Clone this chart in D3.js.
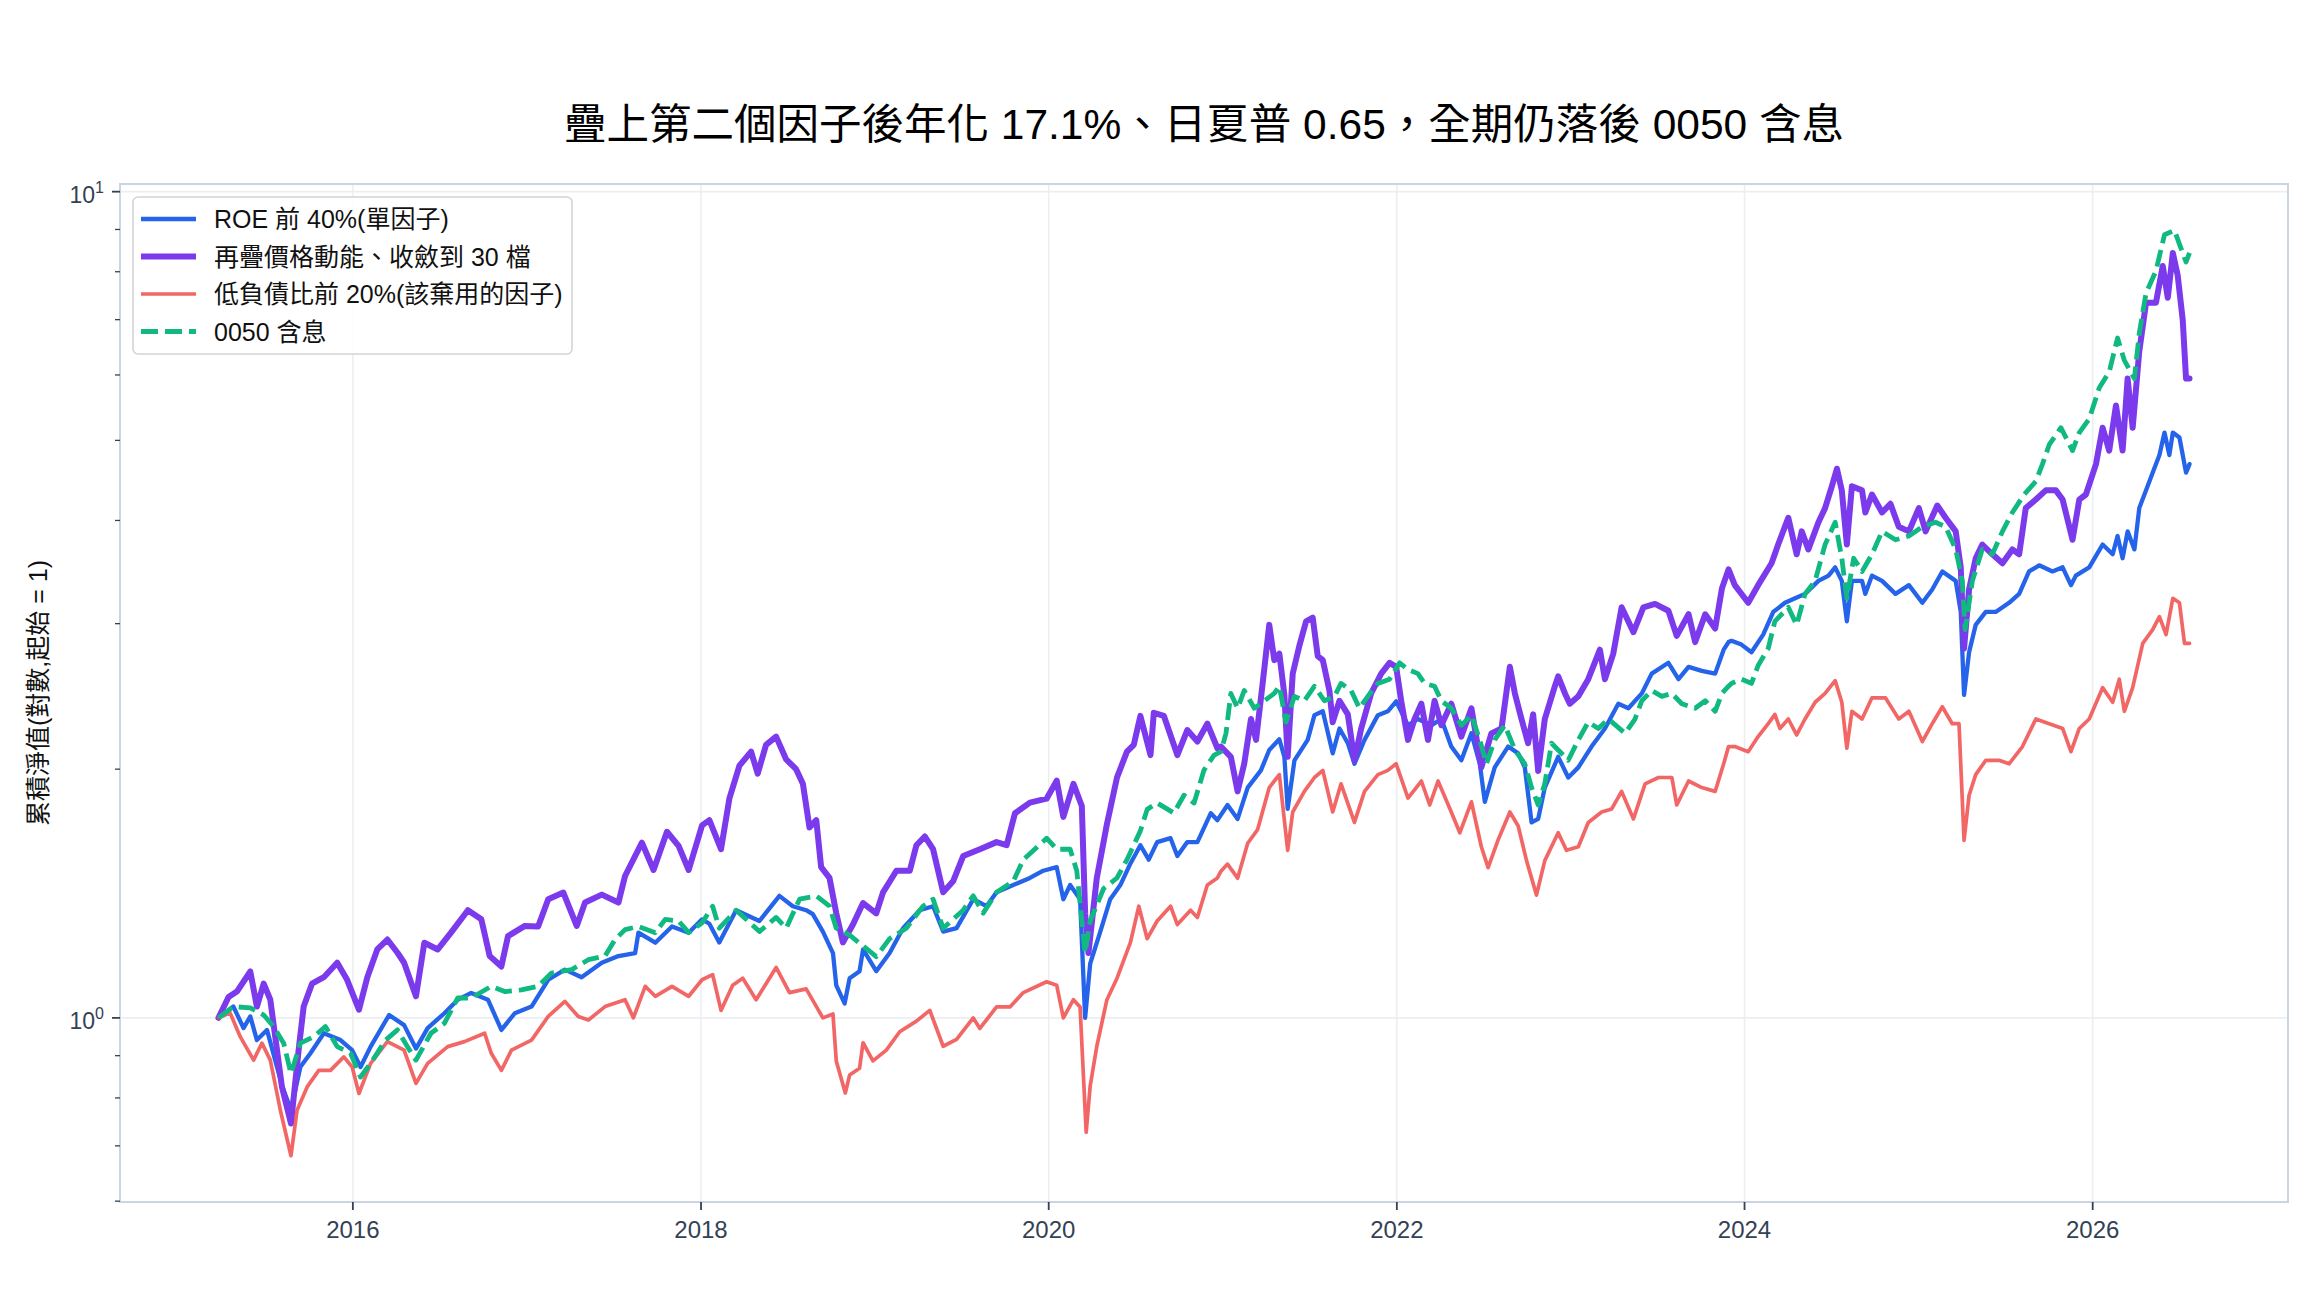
<!DOCTYPE html>
<html>
<head>
<meta charset="utf-8">
<script src="https://cdn.jsdelivr.net/npm/d3@7"></script>
<style>
  html, body { margin: 0; padding: 0; background: #fff; }
  svg { display: block; font-family: "Liberation Sans", Arial, "Noto Sans CJK TC", sans-serif; }
</style>
</head>
<body>
<div id="chart"></div>
<script>
// series: [decimal year, cumulative value (start = 1)]
var roeTop40 = [
  [2015.227,1.00],[2015.313,1.032],[2015.371,0.972],[2015.410,1.004],[2015.448,0.94],[2015.506,0.967],[2015.592,0.829],[2015.644,0.773],[2015.698,0.872],[2015.756,0.906],[2015.833,0.958],[2015.929,0.94],[2015.996,0.914],[2016.044,0.872],[2016.102,0.923],[2016.208,1.008],[2016.294,0.98],[2016.362,0.918],[2016.429,0.972],[2016.525,1.013],[2016.602,1.052],[2016.679,1.072],[2016.775,1.052],[2016.852,0.967],[2016.929,1.013],[2017.025,1.032],[2017.121,1.112],[2017.217,1.144],[2017.313,1.12],[2017.429,1.166],[2017.525,1.188],[2017.621,1.198],[2017.640,1.268],[2017.737,1.233],[2017.833,1.29],[2017.929,1.268],[2018.006,1.316],
  [2018.048,1.30],[2018.105,1.234],[2018.202,1.35],[2018.336,1.31],[2018.451,1.405],[2018.528,1.365],[2018.605,1.35],[2018.643,1.335],[2018.701,1.272],[2018.759,1.198],[2018.778,1.095],[2018.826,1.041],[2018.855,1.117],[2018.912,1.139],[2018.932,1.21],[2019.008,1.139],[2019.085,1.198],[2019.162,1.284],[2019.258,1.35],[2019.335,1.365],[2019.393,1.272],[2019.470,1.284],[2019.566,1.392],[2019.642,1.365],[2019.700,1.419],[2019.796,1.448],[2019.892,1.477],[2019.969,1.507],[2020.046,1.522],[2020.084,1.392],[2020.123,1.448],[2020.180,1.392],[2020.209,1.0],[2020.238,1.163],[2020.296,1.272],[2020.353,1.392],[2020.411,1.448],[2020.469,1.538],[2020.526,1.618],[2020.574,1.554],[2020.622,1.632],[2020.699,1.65],[2020.738,1.57],[2020.795,1.632],[2020.853,1.632],[2020.930,1.769],[2020.968,1.735],
  [2021.026,1.81],[2021.084,1.741],[2021.142,1.90],[2021.218,1.993],[2021.266,2.11],[2021.324,2.174],[2021.353,2.07],[2021.372,1.79],[2021.411,2.05],[2021.487,2.17],[2021.526,2.325],[2021.574,2.35],[2021.631,2.09],[2021.670,2.24],[2021.718,2.15],[2021.756,2.03],[2021.814,2.17],[2021.891,2.325],[2021.948,2.35],[2021.996,2.416],[2022.064,2.26],[2022.121,2.30],[2022.198,2.26],[2022.256,2.30],[2022.313,2.13],[2022.371,2.05],[2022.429,2.21],[2022.477,2.03],[2022.506,1.826],[2022.563,2.01],[2022.640,2.13],[2022.698,2.09],[2022.736,2.01],[2022.775,1.724],[2022.813,1.741],[2022.851,1.90],[2022.928,2.07],[2022.986,1.954],[2023.044,2.01],[2023.120,2.13],[2023.197,2.24],[2023.274,2.40],[2023.332,2.37],[2023.409,2.47],[2023.466,2.61],[2023.562,2.69],[2023.620,2.57],[2023.678,2.66],[2023.754,2.63],[2023.831,2.61],[2023.880,2.79],[2023.908,2.85],
  [2023.925,2.86],[2023.982,2.83],[2024.040,2.77],[2024.107,2.91],[2024.165,3.10],[2024.232,3.18],[2024.290,3.22],[2024.347,3.26],[2024.424,3.38],[2024.482,3.43],[2024.520,3.51],[2024.558,3.38],[2024.587,3.02],[2024.616,3.38],[2024.674,3.38],[2024.693,3.26],[2024.731,3.43],[2024.789,3.38],[2024.866,3.26],[2024.943,3.34],[2025.020,3.18],[2025.077,3.30],[2025.135,3.47],[2025.212,3.38],[2025.241,3.10],[2025.260,2.46],[2025.289,2.77],[2025.327,2.99],[2025.385,3.10],[2025.442,3.10],[2025.519,3.18],[2025.577,3.26],[2025.634,3.47],[2025.692,3.53],[2025.769,3.47],[2025.827,3.51],[2025.875,3.34],[2025.903,3.43],[2025.980,3.51],[2026.057,3.74],[2026.115,3.64],[2026.143,3.83],[2026.172,3.60],[2026.201,3.88],[2026.240,3.69],[2026.268,4.14],[2026.307,4.35],[2026.345,4.57],[2026.384,4.80],[2026.413,5.11],[2026.441,4.80],[2026.461,5.11],[2026.499,5.04],[2026.537,4.57],[2026.557,4.68]
];

var momentum30 = [
  [2015.227,1.00],[2015.285,1.06],[2015.333,1.076],[2015.410,1.138],[2015.448,1.032],[2015.487,1.10],[2015.525,1.052],[2015.592,0.825],[2015.644,0.745],[2015.688,0.914],[2015.717,1.032],[2015.765,1.10],[2015.833,1.12],[2015.910,1.166],[2015.967,1.112],[2016.035,1.023],[2016.083,1.12],[2016.140,1.21],[2016.198,1.244],[2016.256,1.199],[2016.294,1.166],[2016.362,1.062],[2016.410,1.233],[2016.487,1.21],[2016.563,1.268],[2016.660,1.35],[2016.737,1.316],[2016.785,1.188],[2016.852,1.154],[2016.890,1.256],[2016.987,1.292],[2017.063,1.29],[2017.121,1.392],[2017.208,1.418],[2017.285,1.292],[2017.333,1.379],[2017.429,1.41],[2017.525,1.379],[2017.563,1.485],[2017.660,1.63],[2017.727,1.51],[2017.804,1.68],[2017.871,1.615],[2017.929,1.51],[2018.006,1.71],
  [2018.048,1.735],[2018.115,1.60],[2018.163,1.842],[2018.221,2.02],[2018.288,2.10],[2018.326,1.975],[2018.374,2.14],[2018.432,2.19],[2018.490,2.055],[2018.547,2.0],[2018.586,1.92],[2018.624,1.70],[2018.663,1.735],[2018.691,1.522],[2018.739,1.477],[2018.778,1.339],[2018.816,1.234],[2018.874,1.297],[2018.932,1.377],[2019.008,1.338],[2019.047,1.419],[2019.124,1.507],[2019.201,1.507],[2019.239,1.618],[2019.287,1.658],[2019.335,1.60],[2019.393,1.419],[2019.450,1.463],[2019.508,1.57],[2019.604,1.60],[2019.700,1.632],[2019.758,1.618],[2019.806,1.769],[2019.892,1.822],[2019.988,1.842],[2020.046,1.937],[2020.084,1.751],[2020.142,1.92],[2020.190,1.805],[2020.209,1.339],[2020.228,1.198],[2020.276,1.477],[2020.334,1.716],[2020.392,1.955],[2020.449,2.10],[2020.488,2.14],[2020.526,2.32],[2020.584,2.08],[2020.603,2.34],[2020.661,2.32],[2020.738,2.08],[2020.795,2.23],[2020.853,2.16],[2020.910,2.27],[2020.968,2.12],
  [2020.988,2.13],[2021.045,2.07],[2021.084,1.88],[2021.122,2.03],[2021.161,2.30],[2021.190,2.17],[2021.228,2.54],[2021.266,2.99],[2021.295,2.71],[2021.324,2.76],[2021.353,2.46],[2021.372,2.07],[2021.401,2.61],[2021.439,2.82],[2021.478,3.02],[2021.516,3.05],[2021.545,2.74],[2021.574,2.71],[2021.612,2.49],[2021.631,2.28],[2021.670,2.42],[2021.718,2.33],[2021.756,2.05],[2021.795,2.24],[2021.852,2.47],[2021.910,2.61],[2021.958,2.69],[2021.996,2.66],[2022.025,2.42],[2022.064,2.17],[2022.102,2.30],[2022.141,2.40],[2022.179,2.17],[2022.217,2.42],[2022.256,2.26],[2022.313,2.40],[2022.371,2.19],[2022.429,2.37],[2022.486,2.01],[2022.544,2.21],[2022.602,2.24],[2022.650,2.66],[2022.679,2.47],[2022.717,2.30],[2022.755,2.15],[2022.784,2.33],[2022.813,1.99],[2022.851,2.30],[2022.909,2.52],[2022.928,2.59],[2022.967,2.47],[2022.995,2.40],[2023.044,2.45],[2023.101,2.57],[2023.168,2.79],[2023.197,2.57],[2023.245,2.76],[2023.293,3.14],[2023.361,2.93],[2023.418,3.14],[2023.485,3.17],[2023.562,3.11],[2023.610,2.90],[2023.678,3.08],[2023.716,2.85],[2023.774,3.08],[2023.831,2.96],[2023.870,3.31],[2023.908,3.49],
  [2023.944,3.34],[2024.021,3.18],[2024.078,3.34],[2024.155,3.55],[2024.193,3.74],[2024.251,4.03],[2024.299,3.64],[2024.328,3.88],[2024.366,3.69],[2024.424,3.98],[2024.462,4.14],[2024.501,4.40],[2024.530,4.62],[2024.558,4.35],[2024.587,3.74],[2024.616,4.40],[2024.674,4.35],[2024.693,4.09],[2024.731,4.30],[2024.789,4.09],[2024.837,4.19],[2024.885,3.93],[2024.943,3.88],[2025.000,4.14],[2025.039,3.88],[2025.106,4.17],[2025.154,4.03],[2025.212,3.88],[2025.241,3.51],[2025.260,2.80],[2025.289,3.30],[2025.327,3.60],[2025.365,3.74],[2025.423,3.64],[2025.481,3.55],[2025.538,3.69],[2025.577,3.64],[2025.615,4.14],[2025.673,4.24],[2025.730,4.35],[2025.788,4.35],[2025.827,4.24],[2025.884,3.79],[2025.923,4.24],[2025.961,4.30],[2026.019,4.68],[2026.057,5.18],[2026.095,4.86],[2026.134,5.51],[2026.172,4.86],[2026.201,5.94],[2026.230,5.18],[2026.268,6.41],[2026.307,7.34],[2026.364,7.34],[2026.403,8.13],[2026.432,7.44],[2026.461,8.43],[2026.489,7.92],[2026.518,6.99],[2026.537,5.94],[2026.557,5.94]
];

var lowDebt20 = [
  [2015.227,1.00],[2015.294,1.014],[2015.352,0.949],[2015.429,0.889],[2015.477,0.932],[2015.525,0.889],[2015.583,0.773],[2015.644,0.681],[2015.679,0.773],[2015.737,0.825],[2015.804,0.864],[2015.871,0.864],[2015.948,0.897],[2015.996,0.872],[2016.035,0.81],[2016.102,0.881],[2016.198,0.936],[2016.294,0.914],[2016.362,0.833],[2016.429,0.881],[2016.544,0.923],[2016.640,0.936],[2016.756,0.958],[2016.794,0.906],[2016.852,0.864],[2016.910,0.914],[2017.025,0.94],[2017.121,1.004],[2017.217,1.047],[2017.294,1.004],[2017.352,0.994],[2017.448,1.032],[2017.563,1.052],[2017.611,1.0],[2017.679,1.092],[2017.737,1.062],[2017.833,1.092],[2017.929,1.062],[2018.006,1.112],
  [2018.067,1.128],[2018.115,1.021],[2018.182,1.095],[2018.240,1.117],[2018.317,1.052],[2018.432,1.151],[2018.509,1.073],[2018.605,1.084],[2018.701,1.0],[2018.759,1.011],[2018.778,0.887],[2018.830,0.811],[2018.855,0.853],[2018.912,0.869],[2018.932,0.933],[2018.989,0.887],[2019.066,0.914],[2019.143,0.962],[2019.239,0.991],[2019.316,1.021],[2019.393,0.924],[2019.470,0.942],[2019.566,1.0],[2019.604,0.971],[2019.700,1.031],[2019.777,1.031],[2019.854,1.073],[2019.988,1.106],[2020.046,1.095],[2020.084,1.0],[2020.142,1.052],[2020.180,1.031],[2020.215,0.727],[2020.238,0.827],[2020.276,0.924],[2020.334,1.052],[2020.392,1.117],[2020.469,1.234],[2020.517,1.365],[2020.565,1.247],[2020.622,1.31],[2020.699,1.365],[2020.738,1.297],[2020.814,1.35],[2020.853,1.323],[2020.910,1.448],[2020.968,1.477],
  [2020.988,1.505],[2021.026,1.535],[2021.084,1.476],[2021.142,1.627],[2021.199,1.69],[2021.266,1.90],[2021.324,1.97],[2021.372,1.595],[2021.401,1.775],[2021.468,1.88],[2021.526,1.954],[2021.574,1.993],[2021.631,1.775],[2021.679,1.92],[2021.756,1.724],[2021.814,1.88],[2021.891,1.97],[2021.948,1.993],[2021.996,2.03],[2022.064,1.845],[2022.141,1.935],[2022.189,1.81],[2022.237,1.935],[2022.313,1.775],[2022.362,1.675],[2022.429,1.826],[2022.486,1.611],[2022.525,1.52],[2022.583,1.643],[2022.650,1.775],[2022.698,1.707],[2022.746,1.55],[2022.803,1.408],[2022.851,1.55],[2022.928,1.675],[2022.976,1.595],[2023.044,1.611],[2023.101,1.724],[2023.178,1.775],[2023.236,1.79],[2023.293,1.88],[2023.361,1.741],[2023.428,1.92],[2023.505,1.954],[2023.582,1.954],[2023.610,1.81],[2023.678,1.935],[2023.754,1.90],[2023.831,1.88],[2023.880,2.03],[2023.908,2.13],
  [2023.944,2.13],[2024.021,2.10],[2024.078,2.19],[2024.136,2.27],[2024.174,2.33],[2024.203,2.24],[2024.251,2.30],[2024.299,2.20],[2024.347,2.30],[2024.405,2.41],[2024.462,2.47],[2024.520,2.56],[2024.558,2.41],[2024.587,2.12],[2024.616,2.35],[2024.674,2.30],[2024.731,2.44],[2024.808,2.44],[2024.885,2.30],[2024.943,2.35],[2025.020,2.16],[2025.077,2.27],[2025.135,2.38],[2025.192,2.27],[2025.231,2.27],[2025.260,1.64],[2025.289,1.86],[2025.327,1.97],[2025.385,2.05],[2025.461,2.05],[2025.519,2.03],[2025.596,2.13],[2025.673,2.30],[2025.750,2.27],[2025.827,2.24],[2025.875,2.10],[2025.923,2.24],[2025.980,2.30],[2026.057,2.51],[2026.115,2.41],[2026.153,2.57],[2026.182,2.35],[2026.230,2.51],[2026.288,2.84],[2026.345,2.95],[2026.384,3.06],[2026.422,2.91],[2026.461,3.22],[2026.499,3.18],[2026.528,2.84],[2026.557,2.84]
];

var etf0050 = [
  [2015.227,1.00],[2015.313,1.032],[2015.410,1.028],[2015.487,1.008],[2015.544,0.976],[2015.602,0.932],[2015.644,0.856],[2015.698,0.932],[2015.775,0.949],[2015.842,0.976],[2015.910,0.923],[2015.987,0.906],[2016.044,0.848],[2016.102,0.881],[2016.188,0.94],[2016.256,0.967],[2016.313,0.923],[2016.362,0.889],[2016.448,0.958],[2016.525,0.985],[2016.602,1.057],[2016.679,1.057],[2016.794,1.092],[2016.871,1.076],[2016.967,1.081],[2017.063,1.092],[2017.140,1.133],[2017.256,1.144],[2017.352,1.176],[2017.448,1.188],[2017.506,1.244],[2017.563,1.279],[2017.640,1.29],[2017.737,1.268],[2017.794,1.316],[2017.871,1.31],[2017.929,1.268],[2018.006,1.303],
  [2018.067,1.365],[2018.105,1.284],[2018.202,1.35],[2018.336,1.272],[2018.432,1.323],[2018.490,1.284],[2018.567,1.392],[2018.663,1.405],[2018.739,1.365],[2018.778,1.284],[2018.855,1.259],[2018.932,1.222],[2019.008,1.186],[2019.085,1.247],[2019.181,1.284],[2019.277,1.365],[2019.335,1.392],[2019.393,1.284],[2019.508,1.35],[2019.566,1.405],[2019.623,1.339],[2019.700,1.419],[2019.796,1.463],[2019.854,1.554],[2019.988,1.65],[2020.046,1.60],[2020.123,1.60],[2020.161,1.507],[2020.209,1.198],[2020.238,1.31],[2020.315,1.434],[2020.392,1.477],[2020.449,1.554],[2020.526,1.684],[2020.565,1.788],[2020.622,1.82],[2020.718,1.77],[2020.776,1.86],[2020.834,1.82],[2020.891,1.995],[2020.949,2.08],
  [2020.988,2.10],[2021.017,2.21],[2021.045,2.47],[2021.084,2.37],[2021.122,2.49],[2021.180,2.37],[2021.238,2.42],[2021.295,2.47],[2021.324,2.52],[2021.362,2.28],[2021.411,2.45],[2021.468,2.42],[2021.526,2.52],[2021.583,2.42],[2021.641,2.45],[2021.679,2.54],[2021.737,2.49],[2021.785,2.37],[2021.833,2.45],[2021.891,2.54],[2021.958,2.57],[2022.016,2.69],[2022.064,2.64],[2022.121,2.61],[2022.160,2.54],[2022.217,2.52],[2022.256,2.42],[2022.313,2.37],[2022.371,2.26],[2022.429,2.325],[2022.477,2.17],[2022.515,2.03],[2022.563,2.17],[2022.621,2.26],[2022.679,2.11],[2022.736,2.03],[2022.775,1.90],[2022.813,1.81],[2022.851,1.92],[2022.890,2.15],[2022.928,2.11],[2022.986,2.05],[2023.044,2.17],[2023.101,2.28],[2023.159,2.24],[2023.217,2.30],[2023.313,2.21],[2023.370,2.30],[2023.409,2.42],[2023.466,2.49],[2023.524,2.45],[2023.582,2.47],[2023.639,2.40],[2023.716,2.37],[2023.774,2.42],[2023.831,2.35],[2023.870,2.47],[2023.908,2.52],
  [2023.925,2.54],[2023.982,2.57],[2024.040,2.54],[2024.078,2.67],[2024.136,2.80],[2024.174,3.02],[2024.251,3.14],[2024.299,2.99],[2024.347,3.26],[2024.405,3.38],[2024.462,3.74],[2024.520,3.98],[2024.558,3.60],[2024.587,3.22],[2024.626,3.60],[2024.674,3.47],[2024.731,3.64],[2024.789,3.88],[2024.866,3.79],[2024.943,3.83],[2025.020,3.93],[2025.096,3.98],[2025.154,3.93],[2025.212,3.69],[2025.250,3.38],[2025.266,2.95],[2025.308,3.38],[2025.365,3.69],[2025.423,3.64],[2025.481,3.88],[2025.538,4.09],[2025.606,4.30],[2025.673,4.46],[2025.711,4.68],[2025.750,4.94],[2025.817,5.18],[2025.884,4.86],[2025.923,5.11],[2025.980,5.31],[2026.038,5.79],[2026.095,6.05],[2026.143,6.65],[2026.182,6.25],[2026.240,5.94],[2026.268,6.74],[2026.307,7.54],[2026.364,8.02],[2026.413,8.87],[2026.470,8.98],[2026.499,8.64],[2026.537,8.22],[2026.557,8.43]
];

var seriesNames = ['ROE 前 40%(單因子)', '再疊價格動能、收斂到 30 檔', '低負債比前 20%(該棄用的因子)', '0050 含息'];
var seriesColors = ['#2563eb', '#7c3aed', '#ef4444', '#10b981'];
var xTickYears = [2016, 2018, 2020, 2022, 2024, 2026];
var yMajorTicks = [1, 10];
var yMinorTicks = [0.6, 0.7, 0.8, 0.9, 2, 3, 4, 5, 6, 7, 8, 9];
var titleText = '疊上第二個因子後年化 17.1%、日夏普 0.65，全期仍落後 0050 含息';
var yLabelText = '累積淨值(對數,起始 = 1)';

(function () {
  'use strict';

  var W = 2304, H = 1296;
  var left = 120, right = 2288, top = 184, bottom = 1202;
  var tickColor = '#334155', spineColor = '#cbd5e1', gridColor = '#eceef2';

  function toDate(t) {
    var yr = Math.floor(t);
    var a = Date.UTC(yr, 0, 1), b = Date.UTC(yr + 1, 0, 1);
    return new Date(a + (t - yr) * (b - a));
  }

  var allSeries = [roeTop40, momentum30, lowDebt20, etf0050];
  var styles = [
    { width: 4.3, opacity: 1, dash: null },
    { width: 6, opacity: 1, dash: null },
    { width: 3.7, opacity: 0.82, dash: null },
    { width: 4.8, opacity: 1, dash: '17,7' }
  ];

  // domains padded like matplotlib (5%)
  var allPts = d3.merge(allSeries);
  var tExt = d3.extent(allPts, function (d) { return d[0]; });
  var tPad = (tExt[1] - tExt[0]) * 0.05;
  var lExt = d3.extent(allPts, function (d) { return Math.log10(d[1]); });
  var lPad = (lExt[1] - lExt[0]) * 0.05;

  var x = d3.scaleUtc()
    .domain([toDate(tExt[0] - tPad), toDate(tExt[1] + tPad)])
    .range([left, right]);
  var y = d3.scaleLog()
    .domain([Math.pow(10, lExt[0] - lPad), Math.pow(10, lExt[1] + lPad)])
    .range([bottom, top]);

  var svg = d3.select('#chart').append('svg')
    .attr('width', W)
    .attr('height', H)
    .attr('viewBox', '0 0 ' + W + ' ' + H);

  svg.append('rect').attr('width', W).attr('height', H).attr('fill', '#fff');

  // grid
  var grid = svg.append('g').attr('class', 'grid');
  grid.selectAll('.gx').data(xTickYears).enter().append('line')
    .attr('x1', function (d) { return x(toDate(d)); })
    .attr('x2', function (d) { return x(toDate(d)); })
    .attr('y1', top).attr('y2', bottom)
    .attr('stroke', gridColor).attr('stroke-width', 1.6);
  grid.selectAll('.gy').data(yMajorTicks).enter().append('line')
    .attr('x1', left).attr('x2', right)
    .attr('y1', function (d) { return y(d); })
    .attr('y2', function (d) { return y(d); })
    .attr('stroke', gridColor).attr('stroke-width', 1.6);

  // lines
  svg.append('defs').append('clipPath').attr('id', 'clip')
    .append('rect').attr('x', left).attr('y', top)
    .attr('width', right - left).attr('height', bottom - top);

  var line = d3.line()
    .x(function (d) { return x(toDate(d[0])); })
    .y(function (d) { return y(d[1]); });

  var lines = svg.append('g').attr('clip-path', 'url(#clip)');
  allSeries.forEach(function (s, i) {
    lines.append('path')
      .datum(s)
      .attr('d', line)
      .attr('fill', 'none')
      .attr('stroke', seriesColors[i])
      .attr('stroke-width', styles[i].width)
      .attr('stroke-opacity', styles[i].opacity)
      .attr('stroke-linejoin', 'round')
      .attr('stroke-linecap', styles[i].dash ? 'butt' : 'round')
      .attr('stroke-dasharray', styles[i].dash);
  });

  // spines
  svg.append('rect')
    .attr('x', left).attr('y', top)
    .attr('width', right - left).attr('height', bottom - top)
    .attr('fill', 'none').attr('stroke', spineColor).attr('stroke-width', 2);

  // x axis
  var xAxis = svg.append('g');
  xTickYears.forEach(function (yr) {
    var px = x(toDate(yr));
    xAxis.append('line')
      .attr('x1', px).attr('x2', px)
      .attr('y1', bottom).attr('y2', bottom + 8)
      .attr('stroke', tickColor).attr('stroke-width', 1.8);
    xAxis.append('text')
      .attr('x', px).attr('y', bottom + 36)
      .attr('text-anchor', 'middle')
      .attr('font-size', 24)
      .attr('fill', tickColor)
      .text(yr);
  });

  // y axis
  var yAxis = svg.append('g');
  yMajorTicks.forEach(function (v) {
    var py = y(v);
    yAxis.append('line')
      .attr('x1', left - 8).attr('x2', left)
      .attr('y1', py).attr('y2', py)
      .attr('stroke', tickColor).attr('stroke-width', 1.8);
    var t = yAxis.append('text')
      .attr('x', left - 16).attr('y', py + 11)
      .attr('text-anchor', 'end')
      .attr('font-size', 23)
      .attr('fill', tickColor);
    t.append('tspan').text('10');
    t.append('tspan').attr('dy', -10).attr('font-size', 16).text(Math.round(Math.log10(v)));
  });
  yMinorTicks.forEach(function (v) {
    var py = y(v);
    yAxis.append('line')
      .attr('x1', left - 5).attr('x2', left)
      .attr('y1', py).attr('y2', py)
      .attr('stroke', tickColor).attr('stroke-width', 1.3);
  });

  svg.append('text')
    .attr('transform', 'translate(47,' + ((top + bottom) / 2) + ') rotate(-90)')
    .attr('text-anchor', 'middle')
    .attr('font-size', 25)
    .attr('fill', '#111')
    .text(yLabelText);

  // title
  svg.append('text')
    .attr('x', (left + right) / 2)
    .attr('y', 139)
    .attr('text-anchor', 'middle')
    .attr('font-size', 42.5)
    .attr('fill', '#000')
    .text(titleText);

  // legend
  var lg = svg.append('g').attr('transform', 'translate(133,197)');
  lg.append('rect')
    .attr('width', 439).attr('height', 157)
    .attr('rx', 5).attr('ry', 5)
    .attr('fill', '#fff').attr('fill-opacity', 0.85)
    .attr('stroke', '#d4d4d4').attr('stroke-width', 1.6);
  seriesNames.forEach(function (name, i) {
    var cy = 22 + i * 37.5;
    lg.append('line')
      .attr('x1', 8).attr('x2', 63)
      .attr('y1', cy).attr('y2', cy)
      .attr('stroke', seriesColors[i])
      .attr('stroke-width', styles[i].width)
      .attr('stroke-opacity', styles[i].opacity)
      .attr('stroke-dasharray', styles[i].dash);
    lg.append('text')
      .attr('x', 81).attr('y', cy + 9)
      .attr('font-size', 25)
      .attr('fill', '#111')
      .text(name);
  });
}());
</script>
</body>
</html>
